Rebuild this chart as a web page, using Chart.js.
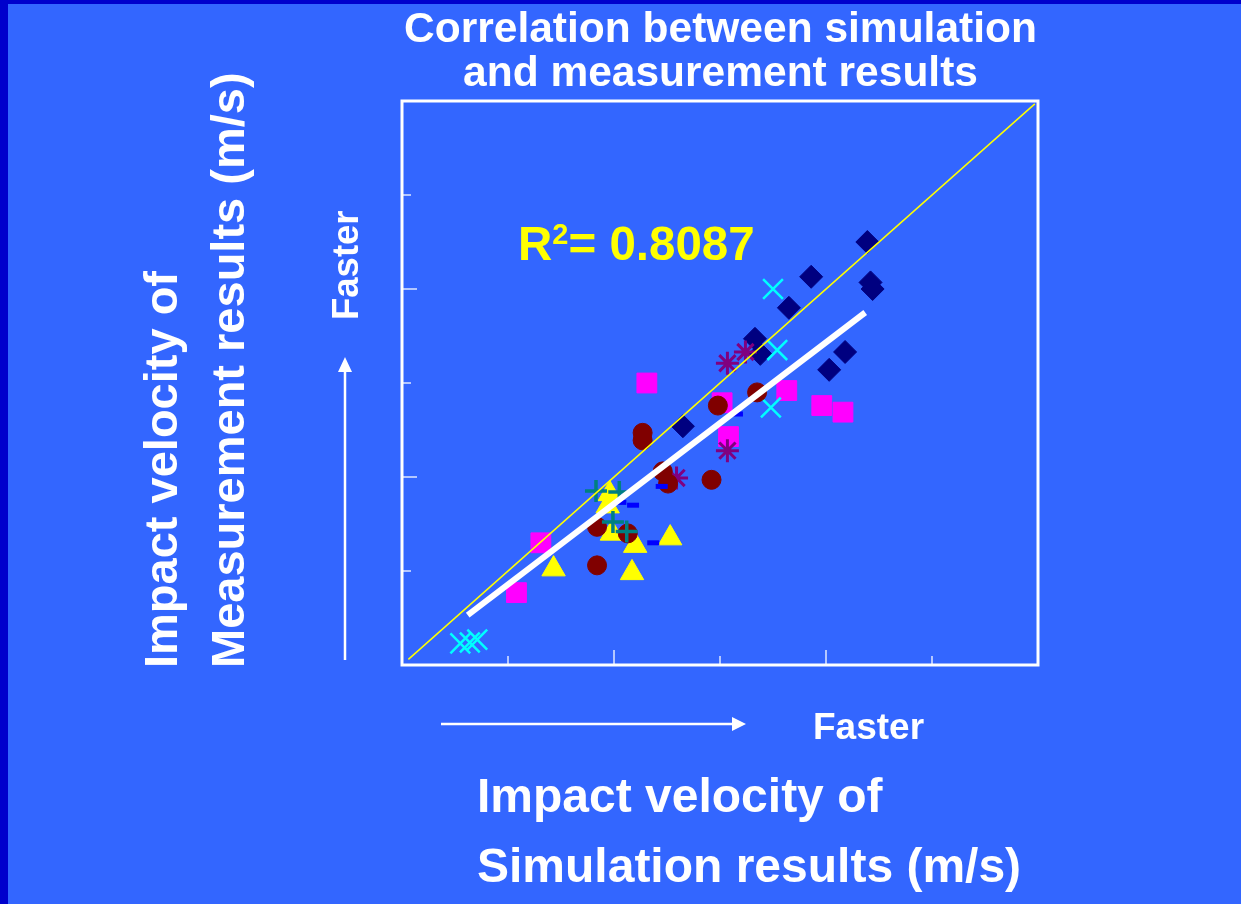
<!DOCTYPE html>
<html>
<head>
    <title>Correlation between simulation and measurement results</title>
    <script src="https://cdn.jsdelivr.net/npm/chart.js@4.4.1/dist/chart.umd.min.js"></script>
    <style>
        body {
            margin: 0;
            background-color: #0000cc;
            font-family: "Liberation Sans", Arial, sans-serif;
            font-weight: bold;
            color: #ffffff;
        }
        .page {
            position: absolute;
            left: 8px;
            top: 4px;
            width: 1233px;
            height: 900px;
            background-color: #3366ff;
        }
        #chartBox {
            position: absolute;
            left: 0;
            top: 0;
            width: 1241px;
            height: 904px;
        }
        .txt {
            position: absolute;
            white-space: nowrap;
            line-height: 1;
        }
        .title {
            position: absolute;
            left: 320px;
            top: 6px;
            width: 801px;
            text-align: center;
            font-size: 42.5px;
            line-height: 44px;
            white-space: nowrap;
        }
        .rot {
            transform-origin: 0 0;
            transform: rotate(-90deg);
        }
        .rsq {
            color: #ffff00;
            font-size: 47.5px;
        }
        .rsq span {
            font-size: 29px;
            position: relative;
            top: -16px;
        }
    </style>
</head>
<body>
<div class="page"></div>
<div id="chartBox"><canvas id="corrChart" width="1241" height="904"></canvas></div>

<div class="title">Correlation between simulation<br>and measurement results</div>
<div class="txt rsq" style="left:518px; top:220px;">R<span>2</span>= 0.8087</div>

<div class="txt rot" style="left:137px; top:668px; font-size:47px;">Impact velocity of</div>
<div class="txt rot" style="left:204px; top:668px; font-size:47px;">Measurement results (m/s)</div>
<div class="txt rot" style="left:328px; top:320px; font-size:36.5px;">Faster</div>

<div class="txt" style="left:813px; top:708px; font-size:37px;">Faster</div>
<div class="txt" style="left:477px; top:772px; font-size:48px;">Impact velocity of</div>
<div class="txt" style="left:477px; top:842px; font-size:48px;">Simulation results (m/s)</div>

<script>
    // values (arbitrary units, axes run 0..6)
    const tickValues = [1, 2, 3, 4, 5];

    const diamonds = [[4.39, 4.50], [3.86, 4.13], [4.42, 4.07], [4.44, 4.00], [3.65, 3.80],
        [3.33, 3.47], [3.38, 3.31], [4.18, 3.33], [4.03, 3.14], [2.65, 2.54]];
    const squares = [[2.31, 3.00], [3.02, 2.79], [3.08, 2.43], [3.63, 2.92], [3.96, 2.76],
        [4.16, 2.69], [1.31, 1.30], [1.08, 0.77]];
    const triangles = [[1.96, 1.82], [1.94, 1.69], [1.98, 1.40], [2.20, 1.27], [2.53, 1.35],
        [1.43, 1.02], [2.17, 0.98]];
    const crosses = [[3.50, 4.00], [3.54, 3.35], [3.48, 2.74], [0.55, 0.23], [0.64, 0.24], [0.71, 0.27]];
    const stars = [[3.07, 3.21], [3.24, 3.33], [3.07, 2.28], [2.59, 1.99]];
    const circles = [[2.27, 2.47], [2.27, 2.39], [2.98, 2.76], [3.35, 2.90], [2.46, 2.06],
        [2.51, 1.93], [2.92, 1.97], [1.84, 1.47], [2.13, 1.40], [1.84, 1.06]];
    const pluses = [[1.83, 1.85], [2.05, 1.84], [1.99, 1.52], [2.12, 1.42]];
    const dashes = [[2.06, 1.73], [2.18, 1.70], [2.45, 1.90], [2.37, 1.30], [3.16, 2.67]];

    const fitLine = [[0.62, 0.53], [4.37, 3.75]];
    const unityLine = [[0.06, 0.06], [5.97, 5.97]];

    function pts(arr) {
        return arr.map(p => ({x: p[0], y: p[1]}));
    }

    const frameAndArrows = {
        id: 'frameAndArrows',
        beforeDatasetsDraw(chart) {
            const ctx = chart.ctx;
            const a = chart.chartArea;
            const x = chart.scales.x;
            const y = chart.scales.y;
            ctx.save();
            ctx.strokeStyle = '#ffffff';
            ctx.lineWidth = 3;
            ctx.strokeRect(a.left, a.top, a.right - a.left, a.bottom - a.top);

            // inward tick marks
            ctx.lineWidth = 1.5;
            ctx.strokeStyle = 'rgba(255,255,255,0.85)';
            tickValues.forEach(function (v) {
                const len = v % 2 === 0 ? 15 : 9;
                const px = x.getPixelForValue(v);
                ctx.beginPath();
                ctx.moveTo(px, a.bottom);
                ctx.lineTo(px, a.bottom - len);
                ctx.stroke();
                const py = y.getPixelForValue(v);
                ctx.beginPath();
                ctx.moveTo(a.left, py);
                ctx.lineTo(a.left + len, py);
                ctx.stroke();
            });

            // "Faster" arrows
            ctx.strokeStyle = '#ffffff';
            ctx.fillStyle = '#ffffff';
            ctx.lineWidth = 2.5;
            ctx.beginPath();
            ctx.moveTo(441, 724);
            ctx.lineTo(734, 724);
            ctx.stroke();
            ctx.beginPath();
            ctx.moveTo(746, 724);
            ctx.lineTo(732, 717);
            ctx.lineTo(732, 731);
            ctx.closePath();
            ctx.fill();

            ctx.beginPath();
            ctx.moveTo(345, 660);
            ctx.lineTo(345, 370);
            ctx.stroke();
            ctx.beginPath();
            ctx.moveTo(345, 357);
            ctx.lineTo(338, 372);
            ctx.lineTo(352, 372);
            ctx.closePath();
            ctx.fill();
            ctx.restore();
        }
    };

    new Chart('corrChart', {
        type: 'scatter',
        data: {
            datasets: [
                {
                    label: 'y = x',
                    data: pts(unityLine),
                    showLine: true,
                    borderColor: '#ffff00',
                    borderWidth: 1.5,
                    pointRadius: 0,
                    order: 0
                },
                {
                    label: 'fit',
                    data: pts(fitLine),
                    showLine: true,
                    borderColor: '#ffffff',
                    borderWidth: 6,
                    pointRadius: 0,
                    order: 0
                },
                {
                    label: 'dash',
                    data: pts(dashes),
                    pointStyle: 'line',
                    pointRadius: 6,
                    borderColor: '#0000ff',
                    borderWidth: 5,
                    order: 1
                },
                {
                    label: 'plus',
                    data: pts(pluses),
                    pointStyle: 'cross',
                    pointRadius: 11,
                    borderColor: '#008080',
                    borderWidth: 3.5,
                    order: 2
                },
                {
                    label: 'circle',
                    data: pts(circles),
                    pointStyle: 'circle',
                    pointRadius: 9.5,
                    backgroundColor: '#800000',
                    borderColor: '#800000',
                    borderWidth: 1,
                    order: 3
                },
                {
                    label: 'star',
                    data: pts(stars),
                    pointStyle: 'star',
                    pointRadius: 11.5,
                    borderColor: '#800080',
                    borderWidth: 3,
                    order: 4
                },
                {
                    label: 'x',
                    data: pts(crosses),
                    pointStyle: 'crossRot',
                    pointRadius: 14,
                    borderColor: '#00ffff',
                    borderWidth: 2.5,
                    order: 5
                },
                {
                    label: 'triangle',
                    data: pts(triangles),
                    pointStyle: 'triangle',
                    pointRadius: 13.5,
                    backgroundColor: '#ffff00',
                    borderColor: '#ffff00',
                    borderWidth: 1,
                    order: 6
                },
                {
                    label: 'square',
                    data: pts(squares),
                    pointStyle: 'rect',
                    pointRadius: 14,
                    backgroundColor: '#ff00ff',
                    borderColor: '#ff00ff',
                    borderWidth: 1,
                    order: 7
                },
                {
                    label: 'diamond',
                    data: pts(diamonds),
                    pointStyle: 'rectRot',
                    pointRadius: 11.5,
                    backgroundColor: '#000080',
                    borderColor: '#000080',
                    borderWidth: 1,
                    order: 8
                }
            ]
        },
        options: {
            responsive: false,
            animation: false,
            events: [],
            layout: {
                padding: {left: 402, top: 101, right: 203, bottom: 239}
            },
            plugins: {
                legend: {display: false},
                tooltip: {enabled: false},
                title: {display: false}
            },
            scales: {
                x: {type: 'linear', min: 0, max: 6, display: false},
                y: {type: 'linear', min: 0, max: 6, display: false}
            }
        },
        plugins: [frameAndArrows]
    });
</script>
</body>
</html>
